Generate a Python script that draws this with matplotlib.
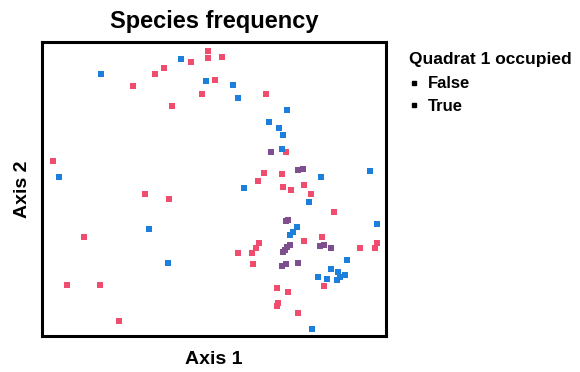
import matplotlib.pyplot as plt
from matplotlib.lines import Line2D

plt.rcParams['font.family'] = ['Liberation Sans', 'DejaVu Sans']

# ordination scores, quadrat 1 not occupied
false_x = [4.83, 4.83, 5.23, 4.33, 3.55, 3.28, 2.65, 5.03, 4.65, 3.78, 0.32, 6.51,
           7.09, 6.45, 6.98, 6.28, 7.01, 7.24, 7.62, 7.82, 8.49, 8.14, 7.62, 6.31,
           6.22, 6.10, 5.70, 9.74, 9.68, 9.24, 6.13, 8.20, 6.83, 7.15, 6.83, 6.86,
           7.44, 2.99, 3.69, 1.22, 0.73, 1.69, 2.24]
false_y = [9.69, 9.46, 9.49, 9.32, 9.12, 8.91, 8.50, 8.71, 8.23, 7.82, 5.95, 8.23,
           6.26, 5.54, 5.51, 5.27, 5.07, 4.97, 5.14, 4.83, 4.22, 3.37, 3.23, 3.16,
           2.99, 2.82, 2.82, 3.16, 2.99, 2.99, 2.45, 1.70, 1.63, 1.50, 1.02, 1.12,
           0.78, 4.83, 4.66, 3.37, 1.73, 1.73, 0.51]

# ordination scores, quadrat 1 occupied
true_x = [4.04, 1.72, 4.77, 5.55, 5.70, 0.49, 7.12, 6.60, 6.89, 7.01, 6.98, 8.11,
          9.53, 5.87, 7.76, 9.74, 7.41, 7.30, 7.21, 8.87, 8.40, 8.60, 8.66, 8.81,
          8.58, 8.02, 8.28, 3.11, 3.66, 7.85]
true_y = [9.42, 8.91, 8.67, 8.54, 8.10, 5.41, 7.69, 7.28, 7.07, 6.84, 6.36, 5.41,
          5.61, 5.03, 4.56, 3.81, 3.71, 3.54, 3.44, 2.59, 2.28, 2.18, 2.01, 2.07,
          1.90, 2.01, 1.94, 3.64, 2.48, 0.24]

# points where both groups overlap
both_x = [6.66, 7.45, 7.60, 7.09, 7.15, 7.12, 7.21, 7.01, 7.06, 8.20, 8.08, 8.40,
          6.98, 7.09, 7.44]
both_y = [6.26, 5.65, 5.68, 3.91, 3.95, 3.03, 3.10, 2.86, 2.93, 3.10, 3.06, 2.99,
          2.38, 2.45, 2.48]

red = '#f04d6e'
blue = '#1c7fdc'
purple = '#7d4f8e'

fig = plt.figure(figsize=(5.8, 3.72), dpi=100)
ax = fig.add_axes([0.0724, 0.0968, 0.593, 0.790])

ax.scatter(false_x, false_y, s=15, marker='s', color=red, linewidths=0)
ax.scatter(true_x, true_y, s=15, marker='s', color=blue, linewidths=0)
ax.scatter(both_x, both_y, s=15, marker='s', color=purple, linewidths=0)

ax.set_xlim(0, 10)
ax.set_ylim(0, 10)
ax.set_xticks([])
ax.set_yticks([])
for sp in ax.spines.values():
    sp.set_linewidth(2.2)

ax.set_title('Species frequency', fontsize=17, fontweight='bold', pad=10)
ax.set_xlabel('Axis 1', fontsize=14, fontweight='bold', labelpad=11)
ax.set_ylabel('Axis 2', fontsize=14, fontweight='bold', labelpad=8)

# legend title drawn separately so the entries sit left of its centre
fig.text(0.845, 0.84, 'Quadrat 1 occupied', ha='center', va='center',
         fontsize=12.5, fontweight='bold')
handles = [Line2D([], [], marker='s', color='black', linestyle='', markersize=3),
           Line2D([], [], marker='s', color='black', linestyle='', markersize=3)]
leg = fig.legend(handles, ['False', 'True'], loc='upper left',
                 bbox_to_anchor=(0.68, 0.835), frameon=False, fontsize=12,
                 handlelength=0.6, handletextpad=0.5, labelspacing=0.45)
for t in leg.get_texts():
    t.set_fontweight('bold')

fig.savefig('out.png', dpi=100)
